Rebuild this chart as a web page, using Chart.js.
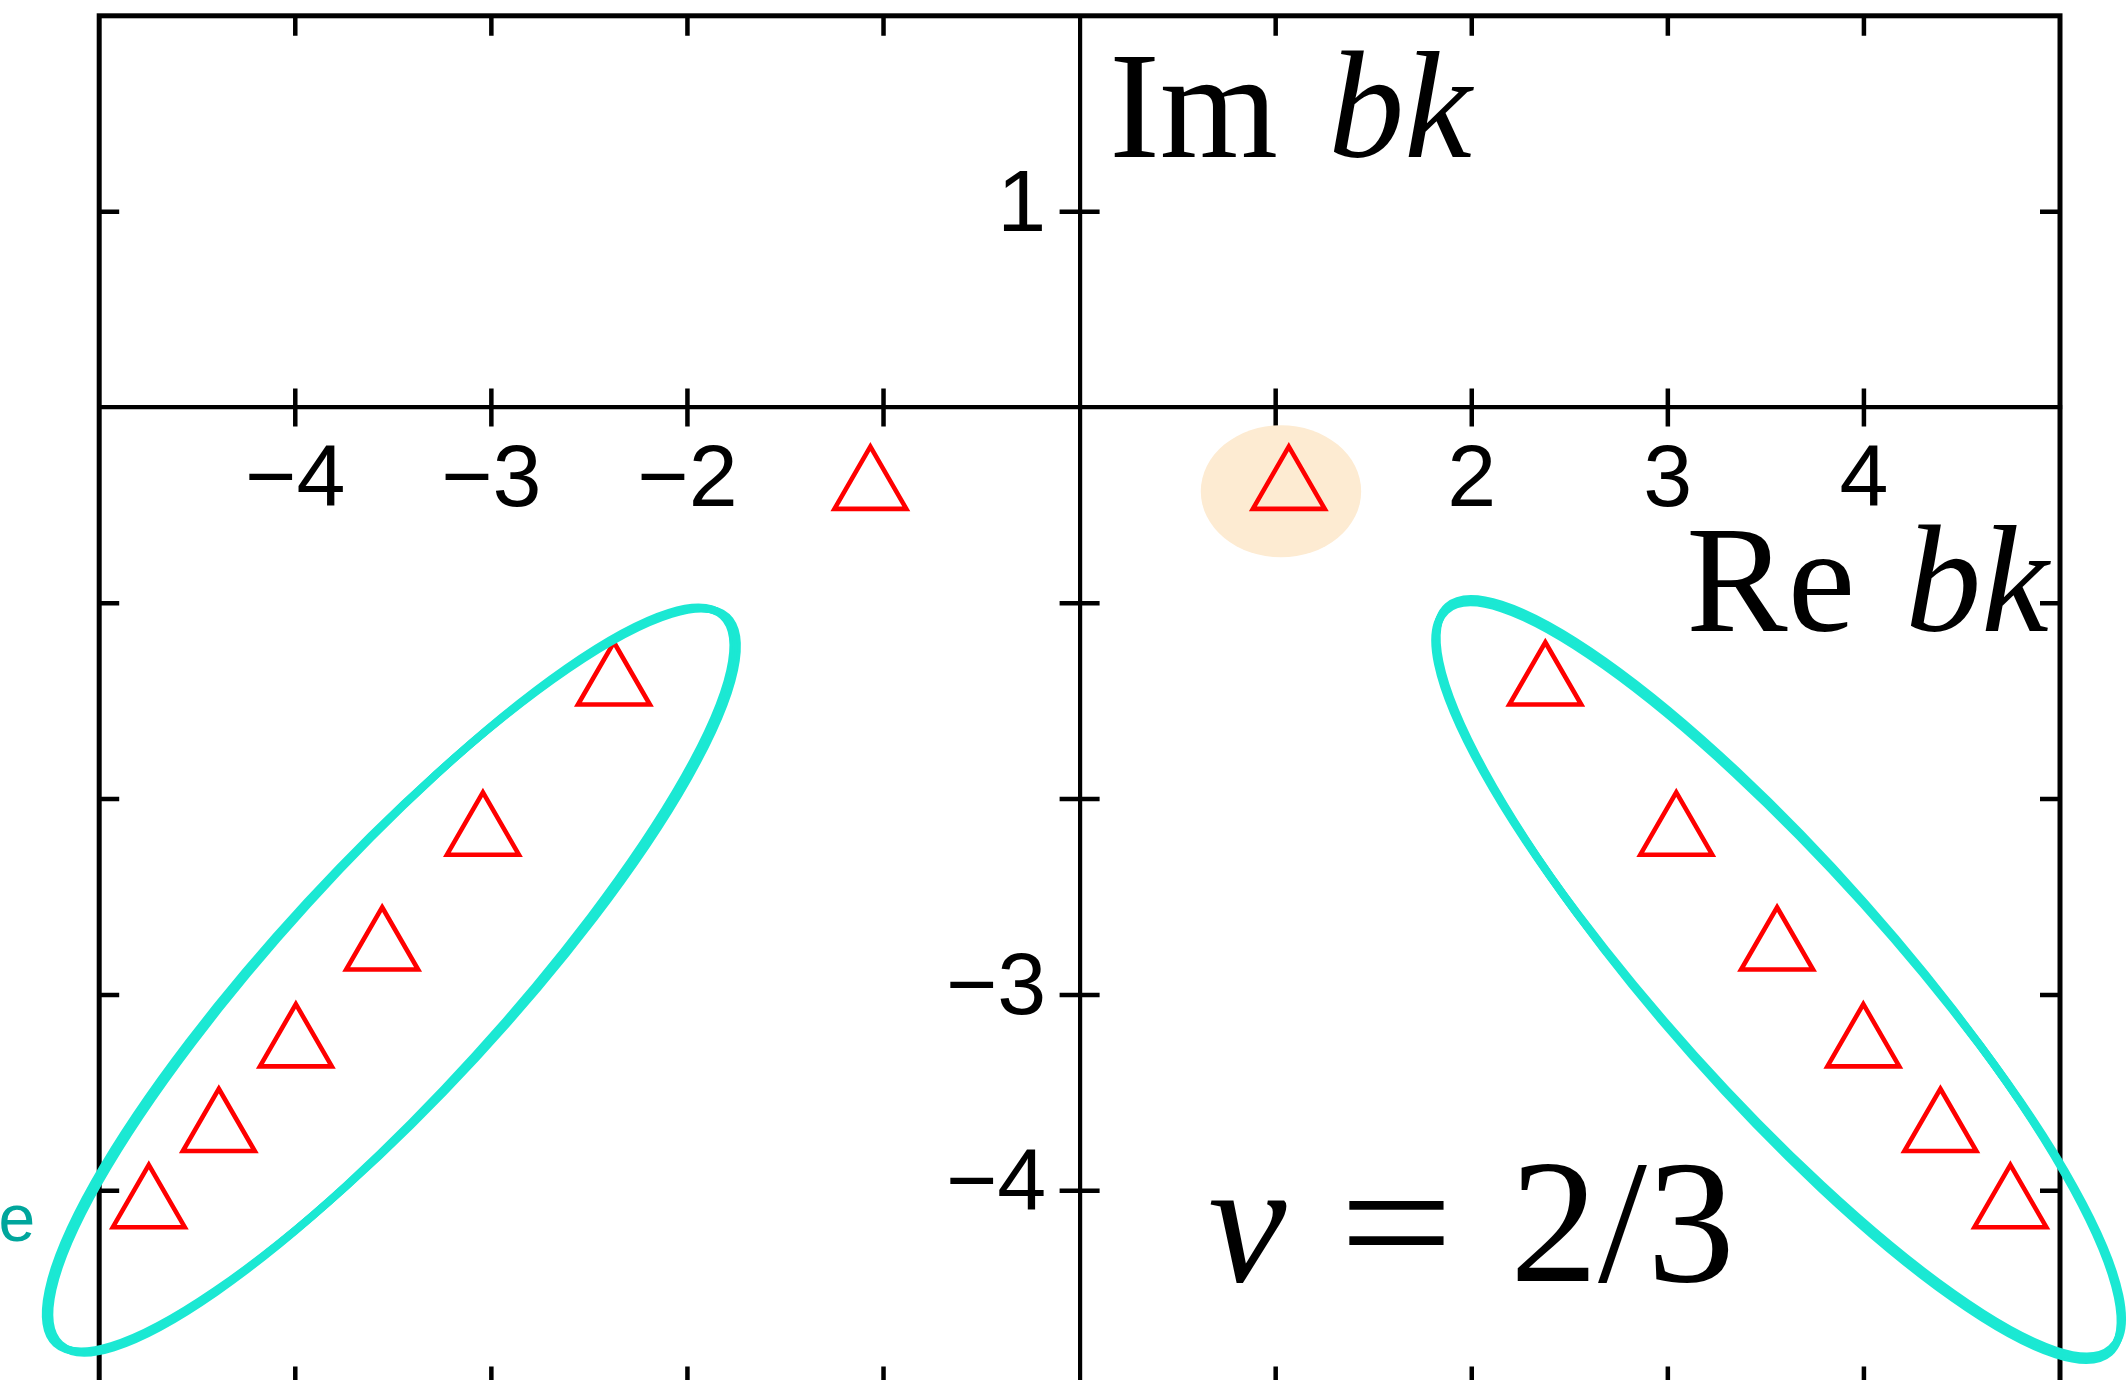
<!DOCTYPE html>
<html>
<head>
<meta charset="utf-8">
<title>Poles in the complex bk plane</title>
<script src="https://cdn.jsdelivr.net/npm/chart.js@4.4.1/dist/chart.umd.min.js"></script>
<style>
  html, body { margin: 0; padding: 0; background: #ffffff; overflow: hidden; }
  #wrap { width: 2127px; height: 1395px; }
</style>
</head>
<body>
<div id="wrap"><canvas id="c" width="2127" height="1395"></canvas></div>
<script>
// Pole positions in the complex bk plane
const poleRe = [-1.067, -2.375, -3.043, -3.557, -3.997, -4.390, -4.747,
                 1.067,  2.375,  3.043,  3.557,  3.997,  4.390,  4.747];
const poleIm = [-0.412, -1.411, -2.178, -2.764, -3.259, -3.691, -4.080,
                -0.412, -1.411, -2.178, -2.764, -3.259, -3.691, -4.080];

// Tick marks and the subset of them that carry a number
const xTickValues = [-4, -3, -2, -1, 1, 2, 3, 4];
const yTickValues = [1, -1, -2, -3, -4];
const xTickLabels = [-4, -3, -2, 2, 3, 4];
const yTickLabels = [1, -3, -4];

// Hand-drawn loops around the two pole strings: centre, semi-axes, tilt (deg)
const loopCx   = [-3.51, 3.565];
const loopCy   = [-2.924, -2.921];
const loopA    = [2.518, 2.54];
const loopB    = [0.581, 0.583];
const loopTilt = [47.5, -48.2];

// Shaded spot behind the leading pole: centre and radii
const spotCenter = [1.027, -0.428];
const spotRadii  = [0.409, 0.337];

// Text annotations (anchor in data units)
const imText = ['Im', 'bk'];
const imAnchor = [0.151, 1.281];
const reText = ['Re', 'bk'];
const reAnchor = [3.094, -1.141];
const nuText = ['\u03BD', '=', '2/3'];
const nuAnchor = [0.656, -4.461];
const sideText = 'Resonance';
const sideAnchor = [-5.327, -4.259];

const SANS = '"Liberation Sans", Arial, Helvetica, sans-serif';
const SERIF = '"Liberation Serif", "Times New Roman", Times, serif';

const fmt = v => (v < 0 ? '\u2212' + Math.abs(v) : String(v));
const noPad = s => { s.paddingLeft = 0; s.paddingRight = 0; s.paddingTop = 0; s.paddingBottom = 0; };

// Box frame, inward ticks on the frame and crossing ticks on the centre axes
const framePlugin = {
  id: 'frame',
  beforeDatasetsDraw(chart) {
    const { ctx, chartArea: a, scales: { x, y } } = chart;
    const x0 = x.getPixelForValue(0);
    const y0 = y.getPixelForValue(0);
    ctx.save();
    ctx.strokeStyle = '#000';
    ctx.lineWidth = 5;
    ctx.strokeRect(a.left, a.top, a.right - a.left, a.bottom - a.top);
    ctx.lineWidth = 4.5;
    ctx.beginPath();
    xTickValues.forEach(v => {
      const px = x.getPixelForValue(v);
      ctx.moveTo(px, a.top);      ctx.lineTo(px, a.top + 20);
      ctx.moveTo(px, a.bottom);   ctx.lineTo(px, a.bottom - 20);
      ctx.moveTo(px, y0 - 19);    ctx.lineTo(px, y0 + 19);
    });
    yTickValues.forEach(v => {
      const py = y.getPixelForValue(v);
      ctx.moveTo(a.left, py);     ctx.lineTo(a.left + 20, py);
      ctx.moveTo(a.right, py);    ctx.lineTo(a.right - 20, py);
      ctx.moveTo(x0 - 20, py);    ctx.lineTo(x0 + 20, py);
    });
    ctx.stroke();

    // shaded spot
    const ux = Math.abs(x.getPixelForValue(1) - x.getPixelForValue(0));
    const uy = Math.abs(y.getPixelForValue(1) - y.getPixelForValue(0));
    ctx.fillStyle = '#fdebd2';
    ctx.beginPath();
    ctx.ellipse(x.getPixelForValue(spotCenter[0]), y.getPixelForValue(spotCenter[1]),
                spotRadii[0] * ux, spotRadii[1] * uy, 0, 0, Math.PI * 2);
    ctx.fill();
    ctx.restore();
  }
};

// Marker loops and the text labels
const annotationPlugin = {
  id: 'annotations',
  afterDatasetsDraw(chart) {
    const { ctx, scales: { x, y } } = chart;
    const ux = Math.abs(x.getPixelForValue(1) - x.getPixelForValue(0));
    const uy = Math.abs(y.getPixelForValue(1) - y.getPixelForValue(0));
    ctx.save();

    // loose marker strokes
    ctx.strokeStyle = '#1be8d3';
    const strokes = [[0, 0, 7.5], [3.2, 0.004, 3.5], [-3.2, -0.004, 3.5], [1.5, -0.007, 2.5], [-1.5, 0.006, 2.5]];
    loopCx.forEach((c, i) => {
      const cx = x.getPixelForValue(c);
      const cy = y.getPixelForValue(loopCy[i]);
      const rot = -loopTilt[i] * Math.PI / 180;
      const ra = loopA[i] * (ux + uy) / 2;
      const rb = loopB[i] * (ux + uy) / 2;
      strokes.forEach(([d, dr, w]) => {
        ctx.lineWidth = w;
        ctx.beginPath();
        ctx.ellipse(cx, cy, ra + d, rb + d, rot + dr, 0, Math.PI * 2);
        ctx.stroke();
      });
    });

    ctx.fillStyle = '#000';
    ctx.textAlign = 'left';
    ctx.textBaseline = 'alphabetic';

    // axis names: roman prefix + italic variable
    const axisName = (parts, anchor) => {
      const px = x.getPixelForValue(anchor[0]);
      const py = y.getPixelForValue(anchor[1]);
      ctx.font = '152px ' + SERIF;
      ctx.fillText(parts[0], px, py);
      const w = ctx.measureText(parts[0]).width;
      ctx.font = 'italic 152px ' + SERIF;
      ctx.fillText(parts[1], px + w + 0.33 * 152, py);
    };
    axisName(imText, imAnchor);
    axisName(reText, reAnchor);

    // filling factor
    {
      const px = x.getPixelForValue(nuAnchor[0]);
      const py = y.getPixelForValue(nuAnchor[1]);
      const fs = 176;
      ctx.font = 'italic ' + fs + 'px ' + SERIF;
      ctx.fillText(nuText[0], px, py);
      // slightly widened equals sign
      ctx.save();
      ctx.translate(px + 0.745 * fs, py);
      ctx.scale(1.15, 1);
      ctx.font = fs + 'px ' + SERIF;
      ctx.fillText(nuText[1], 0, 0);
      ctx.restore();
      ctx.font = fs + 'px ' + SERIF;
      ctx.fillText(nuText[2], px + 1.715 * fs, py);
    }

    // side label
    ctx.fillStyle = '#00a69c';
    ctx.font = '66px ' + SANS;
    ctx.textAlign = 'right';
    ctx.fillText(sideText, x.getPixelForValue(sideAnchor[0]), y.getPixelForValue(sideAnchor[1]));

    ctx.restore();
  }
};

const tickFont = { family: SANS, size: 88 };

new Chart(document.getElementById('c'), {
  type: 'scatter',
  data: {
    datasets: [{
      data: poleRe.map((r, i) => ({ x: r, y: poleIm[i] })),
      pointStyle: 'triangle',
      pointRadius: 41.5,
      pointHoverRadius: 41.5,
      borderColor: '#ff0000',
      backgroundColor: 'rgba(0,0,0,0)',
      borderWidth: 4.6,
      showLine: false
    }]
  },
  options: {
    responsive: false,
    animation: false,
    devicePixelRatio: 1,
    events: [],
    layout: { autoPadding: false, padding: { left: 99.2, top: 15.8, right: 67, bottom: 8.4 } },
    plugins: { legend: { display: false }, tooltip: { enabled: false } },
    scales: {
      x: {
        type: 'linear', min: -5, max: 5, position: { y: 0 },
        // the zero grid line doubles as the vertical centre axis
        grid: {
          display: true, drawOnChartArea: true, drawTicks: false,
          lineWidth: 4.2,
          color: c => (c.tick && c.tick.value === 0 ? '#000' : 'rgba(0,0,0,0)')
        },
        border: { display: true, color: '#000', width: 4.2 },
        ticks: {
          stepSize: 1, padding: 21, color: '#000', font: tickFont,
          maxRotation: 0, autoSkip: false,
          callback: v => (xTickLabels.includes(v) ? fmt(v) : '')
        },
        afterFit: noPad
      },
      y: {
        // labels sit just left of the centre axis
        type: 'linear', min: -5, max: 2, position: { x: -0.17 },
        grid: { display: true, drawOnChartArea: false, drawTicks: false },
        border: { display: false },
        ticks: {
          stepSize: 1, padding: 0, labelOffset: -5, color: '#000', font: tickFont,
          autoSkip: false,
          callback: v => (yTickLabels.includes(v) ? fmt(v) : '')
        },
        afterFit: noPad
      }
    }
  },
  plugins: [framePlugin, annotationPlugin]
});
</script>
</body>
</html>
